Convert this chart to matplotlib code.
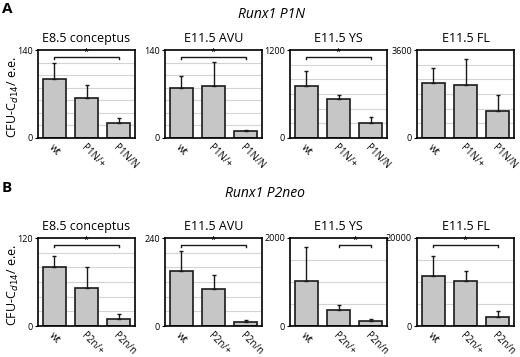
import matplotlib
matplotlib.use("Agg")
import matplotlib.pyplot as plt
import numpy as np

# row A: Runx1 P1N
titles_a = ["E8.5 conceptus", "E11.5 AVU", "E11.5 YS", "E11.5 FL"]
labels_a = ["wt", "P1N/+", "P1N/N"]
ymax_a = [140, 140, 1200, 3600]
grid_a = [20, 20, 200, 600]
vals_a = [[94, 63, 24], [79, 83, 10.5], [711, 530, 204], [2270, 2175, 1115]]
errs_a = [[25, 21, 8], [20, 38, 2.5], [204, 50, 77], [610, 1060, 625]]
sig_a = [(0, 2), (0, 2), (0, 2), None]

# row B: Runx1 P2neo
titles_b = ["E8.5 conceptus", "E11.5 AVU", "E11.5 YS", "E11.5 FL"]
labels_b = ["wt", "P2n/+", "P2n/n"]
ymax_b = [120, 240, 2000, 20000]
grid_b = [20, 40, 500, 5000]
vals_b = [[80, 52.5, 9], [149, 100, 11], [1020, 375, 105], [11460, 10340, 2020]]
errs_b = [[15, 28.5, 7], [55, 40, 4.5], [770, 112, 60], [4420, 2240, 1500]]
sig_b = [(0, 2), (0, 2), (1, 2), (0, 2)]

plt.rcParams['font.family'] = ['Open Sans', 'DejaVu Sans']
fig = plt.figure(figsize=(5.2, 3.57), dpi=100)

lefts = [38, 165, 290, 417]
W, H = 520.0, 357.0


def draw_row(bottom_px, titles, labels, ymaxs, grids, vals, errs, sigs):
    for i in range(4):
        ax = fig.add_axes([lefts[i] / W, (H - bottom_px) / H, 97 / W, 88 / H])
        x = np.arange(len(labels))
        for g in np.arange(grids[i], ymaxs[i], grids[i]):
            ax.axhline(g, color="#d4d4d4", lw=0.8, zorder=0)
        ax.bar(x, vals[i], width=0.72, color="#c6c6c6", edgecolor="#1a1a1a",
               linewidth=1.2, zorder=2)
        ax.errorbar(x, vals[i], yerr=[np.zeros(3), errs[i]], fmt="none",
                    ecolor="#1a1a1a", elinewidth=1.0, capsize=1.5, capthick=1.0,
                    zorder=3)
        ax.set_xlim(-0.5, 2.5)
        ax.set_ylim(0, ymaxs[i])
        ax.set_yticks([0, ymaxs[i]])
        ax.set_yticklabels(["0", str(ymaxs[i])], fontsize=6.5)
        ax.tick_params(axis="y", length=2.5, width=0.8, pad=1)
        ax.set_xticks(x)
        ax.set_xticklabels(labels, rotation=-45, ha="left", rotation_mode="anchor",
                           fontsize=7)
        ax.tick_params(axis="x", length=0, pad=3)
        for s in ax.spines.values():
            s.set_linewidth(1.2)
        ax.set_title(titles[i], fontsize=9, pad=6)
        if sigs[i] is not None:
            a, b = sigs[i]
            yb = ymaxs[i] * 0.925
            tick = ymaxs[i] * 0.025
            ax.plot([a, a, b, b], [yb - tick, yb, yb, yb - tick], color="#1a1a1a",
                    lw=1.0, zorder=4)
            ax.text((a + b) / 2, yb, "*", ha="center", va="bottom", fontsize=6.5)
        if i == 0:
            ax.set_ylabel("CFU-C$_{d14}$/ e.e.", fontsize=9)
            ax.yaxis.set_label_coords(-0.18, 0.47)


draw_row(138, titles_a, labels_a, ymax_a, grid_a, vals_a, errs_a, sig_a)
draw_row(326, titles_b, labels_b, ymax_b, grid_b, vals_b, errs_b, sig_b)

fig.text(2 / W, 1 - 9 / H, "A", fontsize=11, fontweight="bold", va="center")
fig.text(2 / W, 1 - 188 / H, "B", fontsize=11, fontweight="bold", va="center")
fig.text(272 / W, 1 - 14 / H, "Runx1 P1N", fontsize=10, style="italic",
         ha="center", va="center")
fig.text(265 / W, 1 - 194 / H, "Runx1 P2neo", fontsize=10, style="italic",
         ha="center", va="center")

fig.savefig("out.png", dpi=100)
